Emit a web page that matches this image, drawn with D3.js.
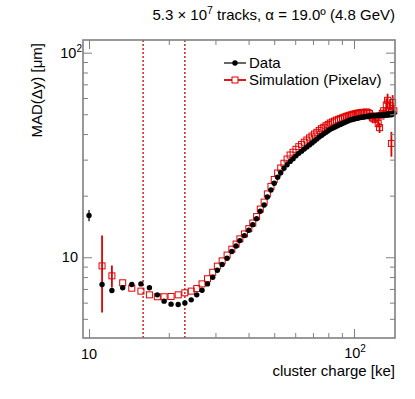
<!doctype html>
<html lang="en">
<head>
	<meta charset="UTF-8">
	<title>MAD vs cluster charge</title>
	<script src="https://d3js.org/d3.v7.min.js"></script>
	<style>
		body { margin: 0; background: #fff; }
		svg { display: block; }
		text { font-family: 'Liberation Sans', Arial, sans-serif; fill: #000; }
	</style>
</head>
<body>
	<div id="chart"></div>
	<script>
		// cluster charge bins [ke]
		var charge = [10.0, 11.2, 12.2, 13.4, 14.5, 15.7, 16.9, 18.1, 19.2, 20.4, 21.7, 23.0, 24.3, 25.5, 26.7, 28.0,
			29.3, 30.5, 31.8, 33.2, 34.6, 35.9, 37.1, 38.6, 40.1, 41.5, 42.9, 44.3, 45.8, 47.1, 48.6, 50.0, 51.5,
			52.9, 54.4, 55.9, 57.4, 58.9, 60.4, 61.9, 63.4, 64.9, 66.4, 67.9, 69.4, 70.9, 72.4, 73.9, 75.4, 76.9,
			78.4, 79.9, 81.4, 82.9, 84.4, 85.9, 87.4, 88.9, 90.4, 91.9, 93.4, 94.9, 96.4, 97.9, 99.4, 100.9, 102.4,
			103.9, 105.4, 106.9, 108.4, 109.9, 111.4, 112.9, 114.4, 115.9, 117.4, 118.9, 120.4, 121.9, 123.4, 124.9,
			126.4, 127.9, 129.4, 130.9, 132.4, 133.9, 135.4, 136.9, 138.4, 139.9, 141.4]

		// MAD(dy) [um] for data
		var data_mad = [16.0, 7.36, 6.88, 7.09, 7.36, 7.41, 7.09, 6.55, 6.10, 5.90, 5.88, 5.98, 6.19, 6.55, 6.90, 7.41,
			7.99, 8.64, 9.21, 9.89, 10.66, 11.35, 12.06, 12.76, 13.54, 14.43, 15.44, 16.77, 17.99, 19.7, 21.3, 23.0,
			24.6, 25.9, 27.2, 28.3, 29.4, 30.3, 31.3, 32.2, 33.0, 33.8, 34.6, 35.4, 36.2, 37.0, 37.8, 38.7, 39.4,
			40.1, 40.8, 41.5, 42.2, 42.7, 43.2, 43.7, 44.2, 44.6, 45.1, 45.5, 45.9, 46.4, 46.8, 47.0, 47.3, 47.5,
			47.7, 47.9, 48.2, 48.3, 48.4, 48.6, 48.7, 48.9, 49.0, 49.1, 49.2, 49.3, 49.1, 49.5, 49.3, 49.6, 49.2,
			49.7, 49.4, 49.8, 49.5, 50.1, 49.6, 50.3, 49.7, 50.2, 50.6]
		var data_err = [1.0, 0.3, 0.2, 0.1, 0.1, 0.1, 0.1, 0.1, 0.1, 0.1, 0.1, 0.1, 0.1, 0.1, 0.1, 0.1, 0.1, 0.1, 0.1,
			0.1, 0.1, 0.1, 0.1, 0.1, 0.1, 0.1, 0.1, 0.1, 0.1, 0.1, 0.1, 0.1, 0.1, 0.1, 0.1, 0.1, 0.1, 0.2, 0.2, 0.2,
			0.2, 0.2, 0.2, 0.2, 0.2, 0.2, 0.2, 0.2, 0.2, 0.2, 0.2, 0.2, 0.2, 0.2, 0.2, 0.2, 0.2, 0.2, 0.2, 0.2, 0.2,
			0.2, 0.2, 0.2, 0.2, 0.2, 0.2, 0.2, 0.2, 0.2, 0.2, 0.2, 0.2, 0.2, 0.2, 0.2, 0.2, 0.2, 0.5, 0.6, 0.5, 0.7,
			0.6, 0.8, 0.7, 0.9, 0.8, 1.0, 1.0, 1.2, 1.1, 1.3, 1.5]

		// MAD(dy) [um] for simulation (Pixelav), no entry in the first bin
		var sim_mad = [null, 9.07, 8.11, 7.50, 7.06, 6.83, 6.55, 6.41, 6.41, 6.43, 6.55, 6.70, 6.83, 7.03, 7.41, 7.85,
			8.45, 9.05, 9.6, 10.25, 10.95, 11.6, 12.3, 13.0, 13.8, 14.7, 15.8, 17.2, 18.6, 20.4, 22.2, 24.0, 25.8,
			27.3, 28.8, 30.2, 31.6, 32.6, 33.7, 34.7, 35.6, 36.5, 37.4, 38.3, 39.1, 40.0, 40.8, 41.7, 42.5, 43.2,
			43.9, 44.6, 45.3, 45.8, 46.3, 46.8, 47.2, 47.6, 48.0, 48.4, 48.8, 49.1, 49.4, 49.7, 50.0, 50.2, 50.5,
			50.6, 50.8, 51.0, 51.1, 50.6, 51.3, 50.9, 50.4, 49.0, 48.0, 47.5, 47.0, 49.0, 45.0, 43.0, 49.0, 50.5,
			52.0, 50.0, 55.5, 58.5, 52.0, 55.0, 36.0, 57.0, 52.0]
		var sim_err = [0, 3.7, 1.0, 0.3, 0.15, 0.15, 0.15, 0.15, 0.15, 0.15, 0.15, 0.15, 0.15, 0.15, 0.15, 0.15, 0.15,
			0.15, 0.15, 0.15, 0.15, 0.15, 0.15, 0.15, 0.15, 0.15, 0.15, 0.15, 0.15, 0.15, 0.15, 0.15, 0.15, 0.15,
			0.15, 0.15, 0.15, 0.3, 0.3, 0.3, 0.3, 0.3, 0.3, 0.3, 0.3, 0.3, 0.3, 0.3, 0.3, 0.3, 0.3, 0.3, 0.3, 0.3,
			0.3, 0.3, 0.3, 0.3, 0.3, 0.3, 0.3, 0.3, 0.3, 0.3, 0.3, 0.3, 0.3, 0.3, 0.3, 0.3, 0.3, 0.3, 0.3, 0.3, 0.3,
			0.8, 0.8, 1.0, 1.5, 1.0, 1.8, 2.5, 1.2, 1.2, 1.5, 1.5, 4.2, 4.5, 2.0, 2.5, 5.0, 5.0, 3.0]

		var cut_lines = [16, 23]          // ke
		var major_ticks = [10, 100]
		var x_minor = [20, 30, 40, 50, 60, 70, 80, 90]
		var y_minor = [5, 6, 7, 8, 9, 20, 30, 40, 50, 60, 70, 80, 90]

		var w = 415, h = 399
		var margin = {left: 83, right: 20, top: 40, bottom: 61}
		var red = '#e00000'

		var svg = d3.select('#chart').append('svg')
			.attr('width', w)
			.attr('height', h)

		var x = d3.scaleLog().domain([9.49, 142.8]).range([margin.left, w - margin.right])
		var y = d3.scaleLog().domain([4.03, 115.3]).range([h - margin.bottom, margin.top])

		var plot = svg.append('g')

		/* ------------------------------ cut lines ------------------------------ */
		plot.selectAll('.cut').data(cut_lines).enter().append('line')
			.attr('x1', d => x(d)).attr('x2', d => x(d))
			.attr('y1', y.range()[0]).attr('y2', y.range()[1])
			.attr('stroke', '#c00000')
			.attr('stroke-width', 1.3)
			.attr('stroke-dasharray', '2,2')

		/* ---------------------------- simulation ---------------------------- */
		var sim = charge.map((c, i) => ({x: c, y: sim_mad[i], e: sim_err[i]})).filter(d => d.y != null)

		plot.selectAll('.simerr').data(sim.filter(d => d.e > 0.5)).enter().append('line')
			.attr('x1', d => x(d.x)).attr('x2', d => x(d.x))
			.attr('y1', d => y(d.y - d.e)).attr('y2', d => y(d.y + d.e))
			.attr('stroke', red)
			.attr('stroke-width', 1.8)

		plot.selectAll('.sim').data(sim).enter().append('rect')
			.attr('x', d => x(d.x) - 3)
			.attr('y', d => y(d.y) - 3)
			.attr('width', 6).attr('height', 6)
			.attr('fill', 'none')
			.attr('stroke', red)
			.attr('stroke-width', 1)

		/* ------------------------------- data ------------------------------- */
		var dat = charge.map((c, i) => ({x: c, y: data_mad[i], e: data_err[i]}))

		plot.selectAll('.daterr').data(dat.filter(d => d.e > 0.4)).enter().append('line')
			.attr('x1', d => x(d.x)).attr('x2', d => x(d.x))
			.attr('y1', d => y(d.y - d.e)).attr('y2', d => y(d.y + d.e))
			.attr('stroke', '#000')
			.attr('stroke-width', 1.2)

		plot.selectAll('.dat').data(dat).enter().append('circle')
			.attr('cx', d => x(d.x))
			.attr('cy', d => y(d.y))
			.attr('r', 2.7)
			.attr('fill', '#000')

		/* ------------------------------- axes ------------------------------- */
		var x0 = margin.left, x1 = w - margin.right
		var y0 = h - margin.bottom, y1 = margin.top
		var axis_col = '#808080'

		function ticks(axisFn, scale, vals, size, tx, ty) {
			svg.append('g')
				.attr('transform', 'translate(' + tx + ',' + ty + ')')
				.call(axisFn(scale).tickValues(vals).tickSizeInner(size).tickSizeOuter(0).tickFormat(''))
				.call(g => g.select('.domain').remove())
				.call(g => g.selectAll('line').attr('stroke', axis_col).attr('stroke-width', 1))
		}
		ticks(d3.axisBottom, x, major_ticks, -9, 0, y0)
		ticks(d3.axisBottom, x, x_minor, -5, 0, y0)
		ticks(d3.axisTop, x, major_ticks, -9, 0, y1)
		ticks(d3.axisTop, x, x_minor, -5, 0, y1)
		ticks(d3.axisLeft, y, major_ticks, -9, x0, 0)
		ticks(d3.axisLeft, y, y_minor, -5, x0, 0)
		ticks(d3.axisRight, y, major_ticks, -9, x1, 0)
		ticks(d3.axisRight, y, y_minor, -5, x1, 0)

		svg.append('rect')
			.attr('x', x0).attr('y', y1)
			.attr('width', x1 - x0).attr('height', y0 - y1)
			.attr('fill', 'none')
			.attr('stroke', axis_col)
			.attr('stroke-width', 1.6)

		// tick labels: 10 and 10^2
		function pow_label(t, exp) {
			t.append('tspan').text('10')
			if (exp) t.append('tspan').attr('dy', -6).attr('font-size', 10).text(exp)
		}
		svg.append('text').attr('x', x(10)).attr('y', 359).attr('text-anchor', 'middle')
			.attr('font-size', 14.5).call(pow_label, null)
		svg.append('text').attr('x', x(100) + 1).attr('y', 358).attr('text-anchor', 'middle')
			.attr('font-size', 14.5).call(pow_label, '2')
		svg.append('text').attr('x', 78).attr('y', y(10) + 5).attr('text-anchor', 'end')
			.attr('font-size', 14.5).call(pow_label, null)
		svg.append('text').attr('x', 82).attr('y', y(100) + 5).attr('text-anchor', 'end')
			.attr('font-size', 14.5).call(pow_label, '2')

		// axis titles
		svg.append('text')
			.attr('x', x1).attr('y', 376)
			.attr('text-anchor', 'end')
			.attr('font-size', 15)
			.text('cluster charge [ke]')

		svg.append('text')
			.attr('transform', 'translate(42,' + (y1 + 3) + ') rotate(-90)')
			.attr('text-anchor', 'end')
			.attr('font-size', 15)
			.text('MAD(\u0394y) [\u03bcm]')

		// title
		var title = svg.append('text')
			.attr('x', x1).attr('y', 20)
			.attr('text-anchor', 'end')
			.attr('font-size', 15)
		title.append('tspan').text('5.3 \u00d7 10')
		title.append('tspan').attr('dy', -6).attr('font-size', 10.5).text('7')
		title.append('tspan').attr('dy', 6).text(' tracks, \u03b1 = 19.0\u00ba (4.8 GeV)')

		/* ------------------------------ legend ------------------------------ */
		var leg = svg.append('g')
		leg.append('line').attr('x1', 224).attr('x2', 246).attr('y1', 63).attr('y2', 63)
			.attr('stroke', '#000').attr('stroke-width', 1.2)
		leg.append('circle').attr('cx', 235).attr('cy', 63).attr('r', 2.7).attr('fill', '#000')
		leg.append('text').attr('x', 249).attr('y', 68).attr('font-size', 15).text('Data')

		leg.append('line').attr('x1', 224).attr('x2', 246).attr('y1', 80).attr('y2', 80)
			.attr('stroke', red).attr('stroke-width', 1.8)
		leg.append('rect').attr('x', 232).attr('y', 77).attr('width', 6).attr('height', 6)
			.attr('fill', '#fff').attr('stroke', red)
		leg.append('text').attr('x', 249).attr('y', 85).attr('font-size', 15).text('Simulation (Pixelav)')
	</script>
</body>
</html>
